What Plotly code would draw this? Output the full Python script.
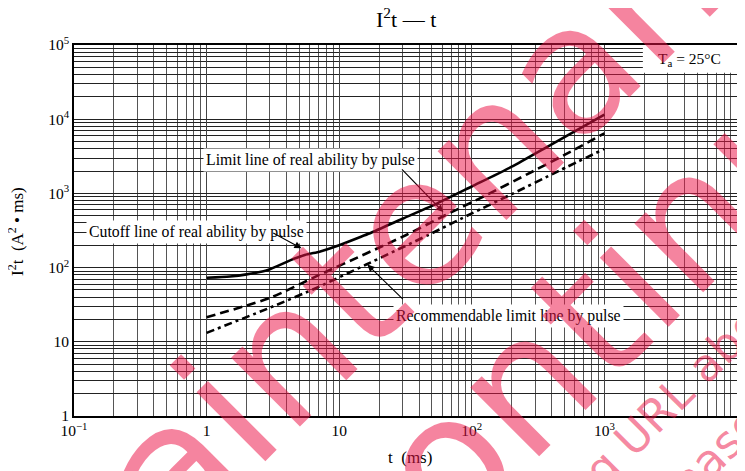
import plotly.graph_objects as go
import math

# ---- data ----
t_cutoff = [1, 1.5, 2, 2.9, 4.3, 5.5, 7.1, 8.6, 10, 14.6, 17.4, 30, 55, 100, 200, 400, 1000]
i2t_cutoff = [73, 76, 81, 93, 126, 148, 164, 182, 200, 261, 295, 456, 735, 1240, 2290, 4590, 11500]

t_limit = [1, 3, 7, 16, 32, 62, 126, 263, 500, 1000]
i2t_limit = [21.4, 39, 79, 155, 275, 500, 930, 1820, 3300, 6460]

t_recom = [1, 3, 7, 16, 47, 100, 200, 450, 1000]
i2t_recom = [13.2, 28.8, 55, 110, 275, 537, 977, 2000, 3980]

x_tickvals = [0.1, 1, 10, 100, 1000, 10000]
x_ticktext = ["10<sup>−1</sup>", "1", "10", "10<sup>2</sup>", "10<sup>3</sup>", "10<sup>4</sup>"]
y_tickvals = [1, 10, 100, 1000, 10000, 100000]
y_ticktext = ["1", "10", "10<sup>2</sup>", "10<sup>3</sup>", "10<sup>4</sup>", "10<sup>5</sup>"]

# label positions (t, I2t) and arrow (tail -> head) in data units
lbl_limit = (6.05, 2820)
lbl_cutoff = (0.846, 302)
lbl_recom = (188, 22.3)
arr_limit = ((29, 2200), (61, 560))
arr_cutoff = ((3.1, 300), (5.2, 182))
arr_recom = ((31, 36), (16.3, 110))

serif = "Liberation Serif, Times New Roman, serif"
fig = go.Figure()
fig.add_trace(go.Scatter(x=t_cutoff, y=i2t_cutoff, mode="lines",
                         line=dict(color="black", width=2.6, shape="spline", smoothing=0.6)))
fig.add_trace(go.Scatter(x=t_limit, y=i2t_limit, mode="lines",
                         line=dict(color="black", width=2.6, dash="9px,5px", shape="spline", smoothing=0.6)))
fig.add_trace(go.Scatter(x=t_recom, y=i2t_recom, mode="lines",
                         line=dict(color="black", width=2.6, dash="8px,4px,3px,4px", shape="spline", smoothing=0.6)))

L = math.log10
C = dict(xanchor="center", yanchor="middle")
ann = []
for (x, y), txt in [(lbl_limit, "Limit line of real ability by pulse"),
                    (lbl_cutoff, "Cutoff line of real ability by pulse"),
                    (lbl_recom, "Recommendable limit line by pulse")]:
    ann.append(dict(x=L(x), y=L(y), xref="x", yref="y", text=txt, showarrow=False, **C,
                    font=dict(family=serif, size=15.8, color="black"), bgcolor="white", borderpad=2))
for (tx, ty), (hx, hy) in [arr_limit, arr_cutoff, arr_recom]:
    ann.append(dict(x=L(hx), y=L(hy), ax=L(tx), ay=L(ty), xref="x", yref="y", axref="x", ayref="y",
                    text="", showarrow=True, arrowhead=2, arrowsize=1.3, arrowwidth=1.1, arrowcolor="black"))

ann.append(dict(x=0.929, y=0.962, xref="paper", yref="paper", text="T<sub>a</sub> = 25°C", showarrow=False, **C,
                font=dict(family=serif, size=15.5, color="black")))
ann.append(dict(x=0.5, y=1.073, xref="paper", yref="paper", text="I<sup>2</sup>t — t", showarrow=False, **C,
                font=dict(family=serif, size=22, color="black")))
ann.append(dict(x=0.507, y=-0.113, xref="paper", yref="paper", text="t  (ms)", showarrow=False, **C,
                font=dict(family=serif, size=17, color="black")))
ann.append(dict(x=-0.0885, y=0.497, xref="paper", yref="paper", text="I<sup>2</sup>t  (A<sup>2</sup> • ms)",
                showarrow=False, textangle=-90, **C, font=dict(family=serif, size=17, color="black")))

wm = "rgba(235,20,70,0.52)"
ann.append(dict(x=0.569, y=0.612, xref="paper", yref="paper", text="Maintenance/", showarrow=False, **C,
                textangle=-45, font=dict(family="DejaVu Sans", size=178, color=wm)))
ann.append(dict(x=0.7226, y=0.162, xref="paper", yref="paper", text="Discontinued", showarrow=False, **C,
                textangle=-45, font=dict(family="DejaVu Sans", size=178, color=wm)))
ann.append(dict(x=0.923, y=0.086, xref="paper", yref="paper", text="Please visit following URL about latest information.",
                showarrow=False, textangle=-45, **C, font=dict(family="DejaVu Sans", size=45, color=wm)))
ann.append(dict(x=0.839, y=-0.329, xref="paper", yref="paper", text="http://www.semicon.panasonic.co.jp/en/",
                showarrow=False, textangle=-45, **C, font=dict(family="DejaVu Sans", size=45, color=wm)))

grid_common = dict(showgrid=True, gridwidth=1, showline=True, linecolor="black", linewidth=1.6,
                   mirror=True, ticks="", zeroline=False, automargin=False,
                   tickfont=dict(family=serif, size=15.5, color="black"))
fig.update_layout(
    width=737, height=463,
    margin=dict(l=66, r=8, t=37, b=55),
    paper_bgcolor="white", plot_bgcolor="white",
    showlegend=False,
    annotations=ann,
    shapes=[dict(type="rect", xref="paper", yref="paper", x0=0.858, x1=1.0, y0=0.925, y1=1.0,
                 fillcolor="white", line=dict(width=0), layer="above")],
    xaxis=dict(type="log", range=[-1, 4], tickmode="array", tickvals=x_tickvals, ticktext=x_ticktext,
               gridcolor="#444",
               minor=dict(tickmode="linear", dtick="D1", showgrid=True, gridcolor="#555", gridwidth=1),
               **grid_common),
    yaxis=dict(type="log", range=[0, 5], tickmode="array", tickvals=y_tickvals, ticktext=y_ticktext,
               gridcolor="#222",
               minor=dict(tickmode="linear", dtick="D1", showgrid=True, gridcolor="#222", gridwidth=1),
               **grid_common),
)
fig.write_html("out.html")
